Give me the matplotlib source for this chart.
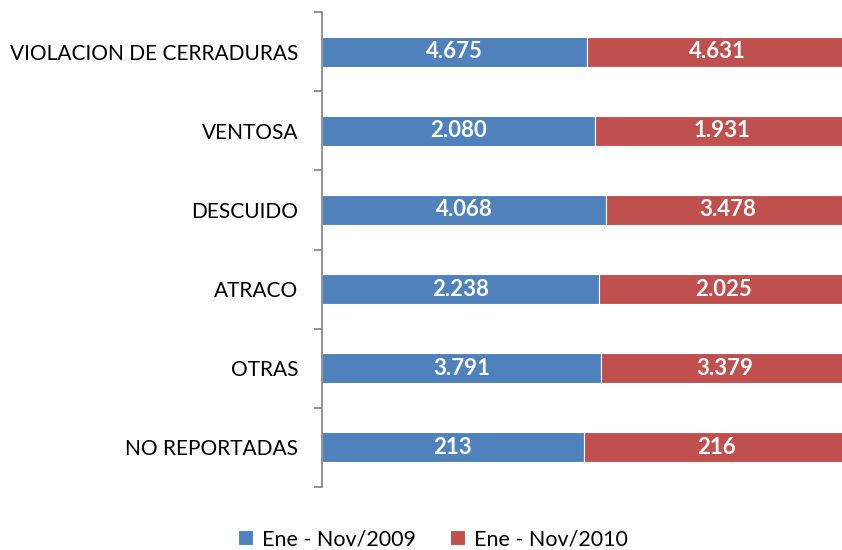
import numpy as np
import matplotlib.pyplot as plt

categorias = ["VIOLACION DE CERRADURAS", "VENTOSA", "DESCUIDO", "ATRACO", "OTRAS", "NO REPORTADAS"]
v2009 = [4675, 2080, 4068, 2238, 3791, 213]
v2010 = [4631, 1931, 3478, 2025, 3379, 216]
etq2009 = ["4.675", "2.080", "4.068", "2.238", "3.791", "213"]
etq2010 = ["4.631", "1.931", "3.478", "2.025", "3.379", "216"]
series = ["Ene - Nov/2009", "Ene - Nov/2010"]

plt.rcParams['font.family'] = ['Lato', 'DejaVu Sans']

a = np.array(v2009, float)
b = np.array(v2010, float)
tot = a + b
pa = a / tot
pb = b / tot

fig = plt.figure(figsize=(8.42, 5.50), dpi=100)
ax = fig.add_axes([322/842, 1 - 487/550, 527/842, 475/550])

y = np.arange(len(categorias))[::-1]
h = 0.38
b1 = ax.barh(y, pa, height=h, color="#4F81BD", edgecolor="white", linewidth=0.8, label=series[0])
b2 = ax.barh(y, pb, left=pa, height=h, color="#C0504D", edgecolor="white", linewidth=0.8, label=series[1])

for i in range(len(categorias)):
    ax.text(pa[i] / 2, y[i], etq2009[i], ha="center", va="center", color="white",
            fontsize=16, fontweight="bold")
    ax.text(pa[i] + pb[i] / 2, y[i], etq2010[i], ha="center", va="center", color="white",
            fontsize=16, fontweight="bold")

ax.set_xlim(0, 1)
ax.set_ylim(-0.5, len(categorias) - 0.5)
ax.set_yticks(y)
ax.set_yticklabels(categorias, fontsize=15)
ax.yaxis.set_minor_locator(plt.FixedLocator(np.arange(-0.5, len(categorias), 1)))
ax.tick_params(axis="y", which="major", length=0, pad=17)
ax.tick_params(axis="y", which="minor", length=6, color="#808080", width=1.2)
ax.set_xticks([])
for s in ["top", "right", "bottom"]:
    ax.spines[s].set_visible(False)
ax.spines["left"].set_color("#808080")
ax.spines["left"].set_linewidth(1.2)

fig.legend(handles=[b1, b2], labels=series, loc="center", bbox_to_anchor=(0.514, 1 - 539/550),
           ncol=2, frameon=False, fontsize=15.5, handlelength=0.7, handleheight=0.7,
           columnspacing=1.6, handletextpad=0.4)

fig.savefig("out.png", dpi=100)
